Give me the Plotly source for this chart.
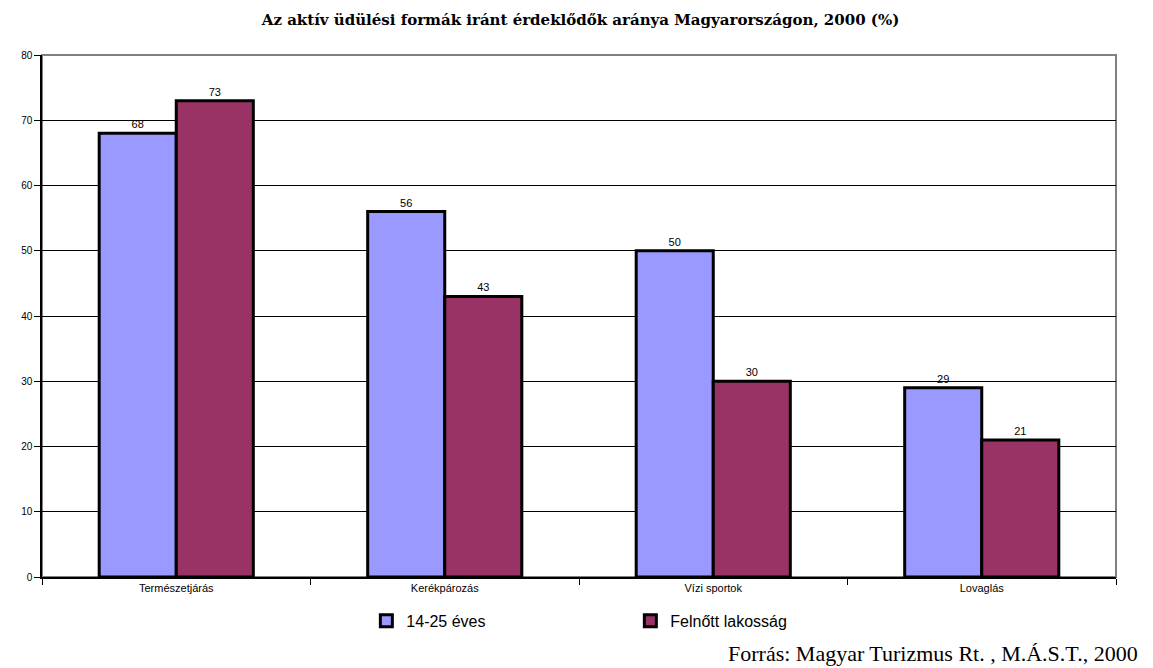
import plotly.graph_objects as go

categories = ["Természetjárás", "Kerékpározás", "Vízi sportok", "Lovaglás"]
series_names = ["14-25 éves", "Felnőtt lakosság"]
young = [68, 56, 50, 29]
adult = [73, 43, 30, 21]
colors = ["#9999FF", "#993366"]
title_text = "Az aktív üdülési formák iránt érdeklődők aránya Magyarországon, 2000 (%)"
source_text = "Forrás: Magyar Turizmus Rt. , M.Á.S.T., 2000"

fig = go.Figure()
for name, vals, col in zip(series_names, [young, adult], colors):
    fig.add_trace(go.Bar(
        x=categories, y=vals, name=name,
        marker=dict(color=col, line=dict(color="black", width=3)),
        text=[str(v) for v in vals], textposition="outside",
        textfont=dict(family="Liberation Sans", size=11, color="black"),
        cliponaxis=False,
    ))

# page body has an 8px margin; figure is sized/offset to compensate
fig.update_layout(
    width=1145, height=660,
    paper_bgcolor="white", plot_bgcolor="white",
    margin=dict(l=34, r=37, t=47, b=91),
    barmode="group", bargap=0.426, bargroupgap=0,
    title=dict(text="<b>" + title_text + "</b>", x=0.5, xanchor="center", y=0.982, yanchor="middle",
               font=dict(family="DejaVu Serif", size=15, color="black")),
    legend=dict(orientation="h", x=0.302, xanchor="left", y=-0.084, yanchor="middle",
                font=dict(family="Liberation Sans", size=16, color="black"),
                itemwidth=30, traceorder="normal", entrywidth=219, entrywidthmode="pixels"),
    font=dict(family="Liberation Sans", color="black"),
    showlegend=True,
)
fig.update_xaxes(
    showline=True, linecolor="black", linewidth=1.5,
    ticks="outside", tickson="boundaries", ticklen=6, tickcolor="black",
    tickfont=dict(family="Liberation Sans", size=11, color="black"),
    showgrid=False,
)
fig.update_yaxes(
    range=[0, 80], dtick=10, showline=True, linecolor="black", linewidth=1.5,
    ticks="outside", ticklen=6, tickcolor="black",
    tickfont=dict(family="Liberation Sans", size=10, color="black"),
    showgrid=True, gridcolor="black", gridwidth=1, zeroline=False,
)
fig.add_shape(type="rect", xref="x domain", yref="y domain", x0=0, x1=1, y0=0, y1=1,
              line=dict(color="#808080", width=2), layer="below")
fig.add_annotation(text=source_text, xref="paper", yref="paper", x=1.0223, y=-0.1456,
                   xanchor="right", yanchor="middle", showarrow=False,
                   font=dict(family="Liberation Serif", size=22, color="black"))

fig.write_html("out.html")
